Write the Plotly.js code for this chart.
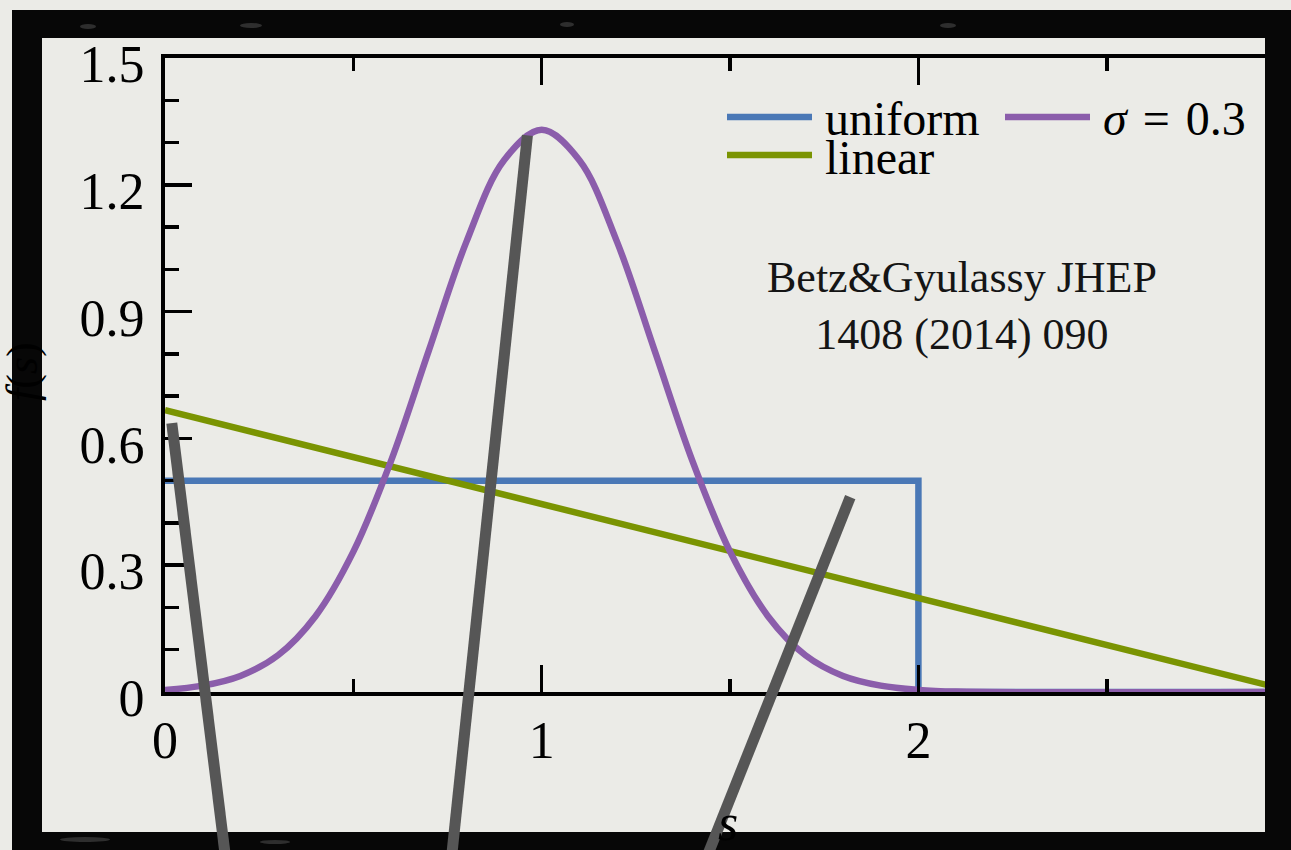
<!DOCTYPE html>
<html>
<head>
<meta charset="utf-8">
<script src="https://cdn.plot.ly/plotly-3.0.1.min.js"></script>
<style>
  html, body { margin: 0; padding: 0; background: #ebebe7; overflow: hidden; }
  #chart { width: 1291px; height: 850px; }
</style>
</head>
<body>
<div id="chart"></div>
<script>
// ---- data ----
const uniformS = [0, 2, 2, 2.92];
const uniformF = [0.5, 0.5, 0, 0];

const linearS = [0, 3];
const linearF = [0.667, 0];

const gaussS = [0, 0.1, 0.2, 0.3, 0.4, 0.5, 0.6, 0.7, 0.8, 0.9, 1.0,
                1.1, 1.2, 1.3, 1.4, 1.5, 1.6, 1.7, 1.8, 1.9, 2.0, 2.1, 2.92];
const gaussF = [0.005, 0.015, 0.038, 0.087, 0.18, 0.332, 0.547, 0.807, 1.065, 1.258, 1.33,
                1.258, 1.065, 0.807, 0.547, 0.332, 0.18, 0.087, 0.038, 0.015, 0.005, 0.001, 0];

const seriesNames = ['uniform', 'linear', '<i>σ</i>\u2004=\u20040.3'];
const seriesColors = ['#4a78b6', '#7a9402', '#8b5dab'];

const xTickVals = [0, 1, 2];
const xTickText = ['0', '1', '2'];
const yTickVals = [0, 0.3, 0.6, 0.9, 1.2, 1.5];
const yTickText = ['0', '0.3', '0.6', '0.9', '1.2', '1.5'];

// pointer strokes, endpoints in (s, f) units
const strokeTopS = [0.018, 0.962, 1.819];
const strokeTopF = [0.636, 1.317, 0.461];
const strokeEndS = [0.159, 0.762, 1.443];
const strokeEndF = [-0.38, -0.38, -0.38];

const noteText = 'Betz&Gyulassy JHEP<br>1408 (2014) 090';

// ---- layout geometry ----
const W = 1291, H = 850;
const L = 165, R = 1265, T = 58, B = 692;
const xRange = [0, 2.92], yRange = [0, 1.5];
const px = x => (x - L) / (R - L);
const py = y => (B - y) / (B - T);
const sx = s => (s - xRange[0]) / (xRange[1] - xRange[0]);
const fy = f => (f - yRange[0]) / (yRange[1] - yRange[0]);

const serif = 'Liberation Serif, DejaVu Serif, serif';
const lw = 6.5;

const traces = [
  { x: uniformS, y: uniformF, mode: 'lines', name: seriesNames[0],
    line: { color: seriesColors[0], width: lw }, showlegend: false },
  { x: linearS, y: linearF, mode: 'lines', name: seriesNames[1],
    line: { color: seriesColors[1], width: lw }, showlegend: false },
  { x: gaussS, y: gaussF, mode: 'lines', name: seriesNames[2],
    line: { color: seriesColors[2], width: lw, shape: 'spline', smoothing: 1 }, showlegend: false }
];

const shapes = [];
const annotations = [];

// hand-drawn black frame
const frameFill = '#070707';
[[12, 10, 42, 860], [12, 10, 1300, 38], [1265, 10, 1300, 860], [12, 832, 1300, 860]].forEach(r => {
  shapes.push({ type: 'rect', xref: 'paper', yref: 'paper', layer: 'above',
    x0: px(r[0]), x1: px(r[2]), y0: py(r[3]), y1: py(r[1]),
    fillcolor: frameFill, line: { width: 0 } });
});
// worn specks in the frame ink
[[80, 24, 96, 29], [240, 23, 262, 28], [560, 22, 574, 27], [940, 23, 956, 28],
 [60, 837, 110, 842], [260, 840, 290, 844]].forEach(r => {
  shapes.push({ type: 'circle', xref: 'paper', yref: 'paper', layer: 'above',
    x0: px(r[0]), x1: px(r[2]), y0: py(r[3]), y1: py(r[1]),
    fillcolor: 'rgba(120,120,120,0.35)', line: { width: 0 } });
});

// legend: two columns (uniform, linear | sigma)
const legendPos = [[727, 117], [727, 155], [1005, 117]];
legendPos.forEach((p, i) => {
  shapes.push({ type: 'line', xref: 'paper', yref: 'paper', layer: 'above',
    x0: px(p[0]), x1: px(p[0] + 85), y0: py(p[1]), y1: py(p[1]),
    line: { color: seriesColors[i], width: lw } });
  annotations.push({ xref: 'paper', yref: 'paper', x: px(p[0] + 96), y: py(p[1] + 2),
    xanchor: 'left', yanchor: 'middle', showarrow: false, text: seriesNames[i],
    font: { family: serif, size: 48, color: '#000' } });
});

// gray pointer strokes
for (let i = 0; i < strokeTopS.length; i++) {
  shapes.push({ type: 'line', xref: 'paper', yref: 'paper', layer: 'above',
    x0: sx(strokeTopS[i]), y0: fy(strokeTopF[i]),
    x1: sx(strokeEndS[i]), y1: fy(strokeEndF[i]),
    line: { color: '#565656', width: 11 } });
}

annotations.push({ xref: 'paper', yref: 'paper', x: px(962), y: py(306),
  xanchor: 'center', yanchor: 'middle', showarrow: false, text: noteText,
  font: { family: serif, size: 44, color: '#151515' } });

// axis titles (mostly tucked under the frame)
annotations.push({ xref: 'paper', yref: 'paper', x: px(22), y: py(372),
  xanchor: 'center', yanchor: 'middle', showarrow: false, textangle: -90,
  text: '<i>f</i>(<i>s</i>)', font: { family: serif, size: 44, color: '#000' } });
annotations.push({ xref: 'paper', yref: 'paper', x: px(728), y: py(822),
  xanchor: 'center', yanchor: 'middle', showarrow: false,
  text: '<i>s</i>', font: { family: serif, size: 52, color: '#000' } });

const axisCommon = {
  showline: true, linewidth: 4, linecolor: '#000',
  ticks: 'inside', ticklen: 27, tickwidth: 3.5, tickcolor: '#000',
  showgrid: false, zeroline: false, fixedrange: true,
  tickfont: { family: serif, size: 52, color: '#000' }
};

const layout = {
  width: W, height: H,
  margin: { l: L, r: W - R, t: T, b: H - B },
  paper_bgcolor: '#ebebe7', plot_bgcolor: '#ebebe7',
  showlegend: false,
  xaxis: Object.assign({}, axisCommon, {
    mirror: 'ticks',
    range: xRange, tickmode: 'array', tickvals: xTickVals, ticktext: xTickText,
    ticklabelstandoff: 0,
    minor: { dtick: 0.5, tick0: 0, ticks: 'inside', ticklen: 13, tickwidth: 3.5, tickcolor: '#000' }
  }),
  yaxis: Object.assign({}, axisCommon, {
    mirror: false,
    range: yRange, tickmode: 'array', tickvals: yTickVals, ticktext: yTickText,
    ticklabelstandoff: 6, ticklabelshift: 6,
    minor: { dtick: 0.1, tick0: 0, ticks: 'inside', ticklen: 14, tickwidth: 3.5, tickcolor: '#000' }
  }),
  shapes: shapes,
  annotations: annotations
};

Plotly.newPlot('chart', traces, layout, { staticPlot: true, displayModeBar: false });
</script>
</body>
</html>
